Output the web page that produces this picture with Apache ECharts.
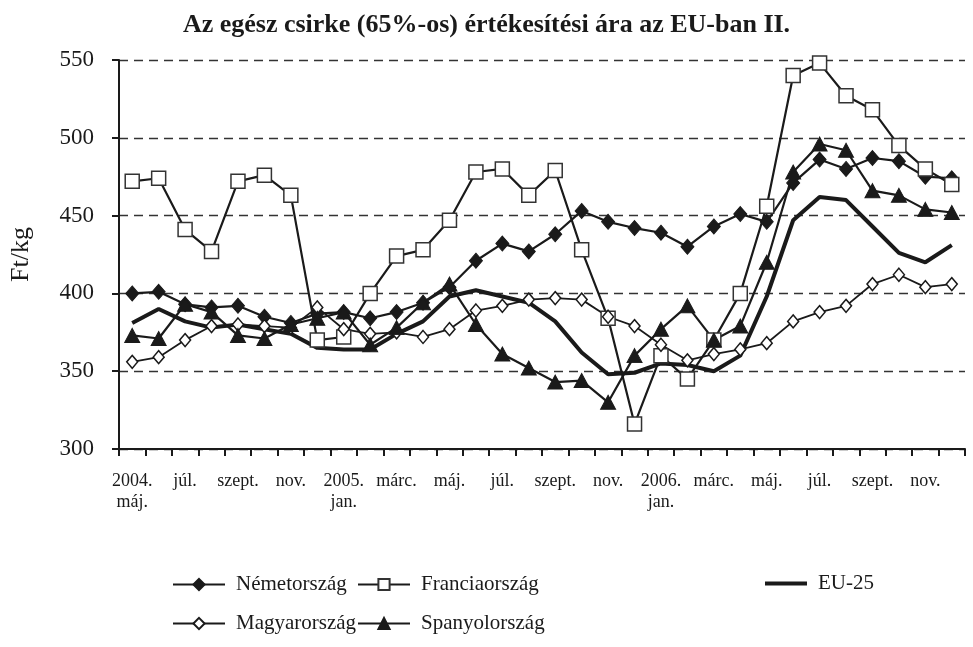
<!DOCTYPE html>
<html>
<head>
<meta charset="utf-8">
<script src="https://cdn.jsdelivr.net/npm/echarts@6/dist/echarts.min.js"></script>
<style>
html,body{margin:0;padding:0;background:#fff;}
#chart{width:973px;height:647px;}
</style>
</head>
<body>
<div id="chart"></div>
<script>
const months = ['2004. máj.','2004. jún.','2004. júl.','2004. aug.','2004. szept.','2004. okt.','2004. nov.','2004. dec.',
  '2005. jan.','2005. febr.','2005. márc.','2005. ápr.','2005. máj.','2005. jún.','2005. júl.','2005. aug.','2005. szept.','2005. okt.','2005. nov.','2005. dec.',
  '2006. jan.','2006. febr.','2006. márc.','2006. ápr.','2006. máj.','2006. jún.','2006. júl.','2006. aug.','2006. szept.','2006. okt.','2006. nov.','2006. dec.'];
const tickLabels = ['2004.\nmáj.','júl.','szept.','nov.','2005.\njan.','márc.','máj.','júl.','szept.','nov.','2006.\njan.','márc.','máj.','júl.','szept.','nov.'];
const yTicks = [300, 350, 400, 450, 500, 550];

const nemet  = [400, 401, 393, 391, 392, 385, 381, 387, 388, 384, 388, 394, 404, 421, 432, 427, 438, 453, 446, 442, 439, 430, 443, 451, 446, 471, 486, 480, 487, 485, 475, 474];
const francia = [472, 474, 441, 427, 472, 476, 463, 370, 372, 400, 424, 428, 447, 478, 480, 463, 479, 428, 384, 316, 360, 345, 370, 400, 456, 540, 548, 527, 518, 495, 480, 470];
const eu25   = [381, 390, 382, 378, 380, 377, 374, 365, 364, 364, 374, 382, 398, 402, 398, 394, 382, 362, 348, 349, 355, 354, 350, 360, 398, 447, 462, 460, 443, 426, 420, 431];
const magyar = [356, 359, 370, 379, 380, 379, 378, 391, 377, 374, 375, 372, 377, 389, 392, 396, 397, 396, 385, 379, 367, 357, 361, 364, 368, 382, 388, 392, 406, 412, 404, 406];
const spanyol = [373, 371, 393, 388, 373, 371, 380, 384, 388, 367, 378, 394, 406, 380, 361, 352, 343, 344, 330, 360, 377, 392, 370, 379, 420, 478, 496, 492, 466, 463, 454, 452];

const FONT = '"Liberation Serif", "Times New Roman", serif';
const INK = '#1a1a1a';

const chart = echarts.init(document.getElementById('chart'), null, {renderer: 'canvas'});

function legendAt(name, left, top, extra) {
  return Object.assign({
    data: [name], left: left, top: top, orient: 'horizontal',
    itemWidth: 52, itemHeight: 14, padding: 0,
    textStyle: {fontFamily: FONT, fontSize: 21, color: INK, padding: [0, 0, 0, 6]},
    selectedMode: false
  }, extra || {});
}

const base = {type: 'line', smooth: false, animation: false, z: 3};

chart.setOption({
  backgroundColor: '#fff',
  animation: false,
  title: {
    text: 'Az egész csirke (65%-os) értékesítési ára az EU-ban II.',
    left: 'center', top: 7,
    textStyle: {fontFamily: FONT, fontSize: 26, fontWeight: 'bold', color: INK}
  },
  grid: {left: 117, right: 8, top: 60, bottom: 198, containLabel: false},
  legend: [
    legendAt('Németország', 172, 574),
    legendAt('Franciaország', 357, 574),
    legendAt('EU-25', 765, 573, {
      itemWidth: 42, itemHeight: 4,
      data: [{name: 'EU-25', icon: 'rect', itemStyle: {color: INK}}]
    }),
    legendAt('Magyarország', 172, 613),
    legendAt('Spanyolország', 357, 613)
  ],
  xAxis: {
    type: 'category',
    data: months,
    boundaryGap: true,
    axisLine: {lineStyle: {color: INK, width: 2}},
    axisTick: {show: true, alignWithLabel: false, interval: 0, length: 7, lineStyle: {color: INK, width: 2}},
    axisLabel: {
      interval: 0, margin: 22, fontFamily: FONT, fontSize: 18, color: INK, lineHeight: 21,
      formatter: function (v, i) { return i % 2 === 0 ? tickLabels[i / 2] : ''; }
    },
    splitLine: {show: false}
  },
  yAxis: {
    type: 'value',
    min: yTicks[0], max: yTicks[yTicks.length - 1], interval: 50,
    name: 'Ft/kg', nameLocation: 'middle', nameGap: 85, nameRotate: 90,
    nameTextStyle: {fontFamily: FONT, fontSize: 26, color: INK},
    axisLine: {show: true, lineStyle: {color: INK, width: 2}},
    axisTick: {show: true, length: 7, lineStyle: {color: INK, width: 2}},
    axisLabel: {margin: 25, fontFamily: FONT, fontSize: 23, color: INK},
    splitLine: {show: true, lineStyle: {color: '#333', width: 1.3, type: [9, 6]}}
  },
  series: [
    Object.assign({}, base, {
      name: 'Németország', data: nemet,
      symbol: 'diamond', symbolSize: [13, 15],
      lineStyle: {color: INK, width: 2.2},
      itemStyle: {color: INK, borderColor: INK, borderWidth: 1}
    }),
    Object.assign({}, base, {
      name: 'Franciaország', data: francia,
      symbol: 'rect', symbolSize: 14,
      lineStyle: {color: INK, width: 2.2},
      itemStyle: {color: '#fff', borderColor: '#333', borderWidth: 1.5}
    }),
    Object.assign({}, base, {
      name: 'EU-25', data: eu25,
      symbol: 'none',
      lineStyle: {color: INK, width: 4},
      itemStyle: {color: INK}
    }),
    Object.assign({}, base, {
      name: 'Magyarország', data: magyar,
      symbol: 'diamond', symbolSize: [11, 13],
      lineStyle: {color: INK, width: 1.8},
      itemStyle: {color: '#fff', borderColor: INK, borderWidth: 1.5}
    }),
    Object.assign({}, base, {
      name: 'Spanyolország', data: spanyol,
      symbol: 'triangle', symbolSize: [15, 14],
      lineStyle: {color: INK, width: 2.2},
      itemStyle: {color: INK, borderColor: INK, borderWidth: 1}
    })
  ]
});
</script>
</body>
</html>
